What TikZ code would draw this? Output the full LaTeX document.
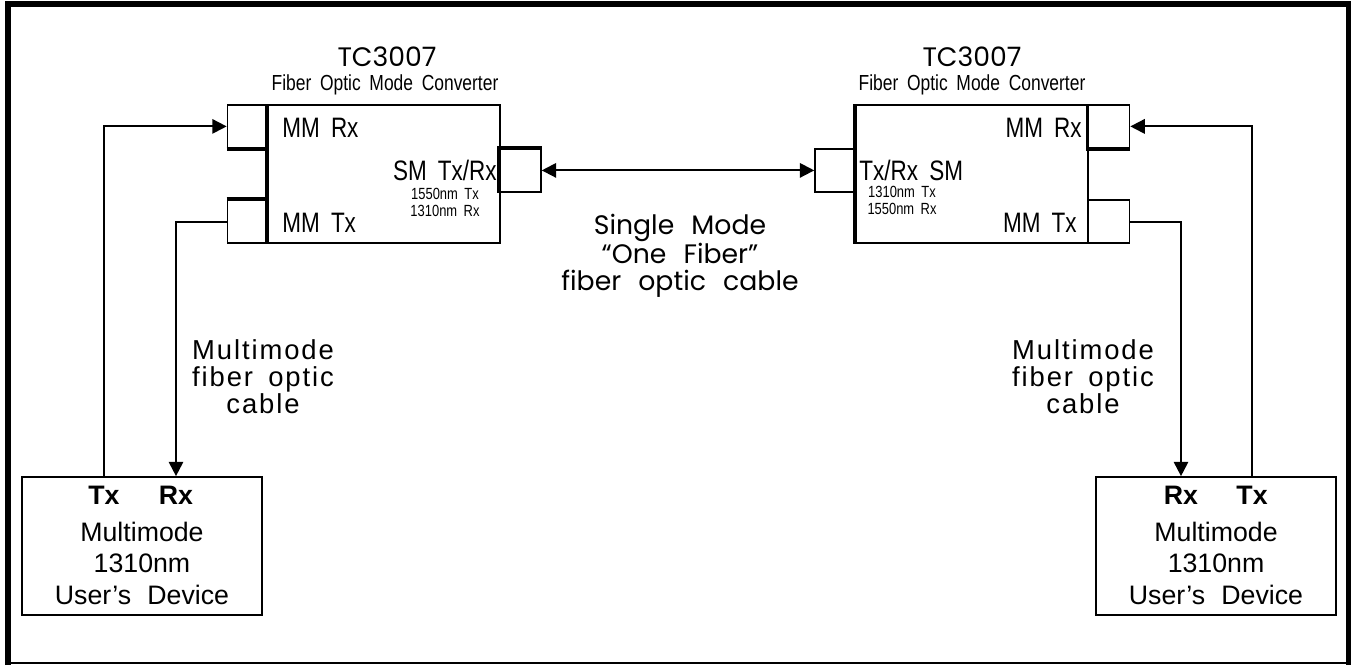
\documentclass[tikz,border=0pt]{standalone}
\usepackage{fontspec}
\setmainfont{Liberation Sans}
\newfontfamily\narrowfont[FakeStretch=0.8,WordSpace=1.8]{Liberation Sans}
\newfontfamily\roundfont[WordSpace=2.4]{Poppins}
\newfontfamily\widefont[LetterSpace=7,WordSpace=1.6]{Liberation Sans}
\newfontfamily\devfont[WordSpace=2.2]{Liberation Sans}
\usetikzlibrary{arrows.meta}

\begin{document}
\begin{tikzpicture}[
  box/.style={draw, line width=1.2pt, inner sep=0pt},
  conv/.style={box, minimum width=58mm, minimum height=34.5mm},
  port/.style={box, minimum width=10.25mm, minimum height=10.75mm},
  dev/.style={box, minimum width=60mm, minimum height=34.5mm},
  accent/.style={line width=2.6pt},
  cable/.style={line width=1.4pt, -{Triangle[length=3.6mm,width=3.6mm]}},
  lbl/.style={inner sep=0pt, font=\narrowfont\fontsize{20}{22}\selectfont},
  tiny/.style={inner sep=0pt, align=center, font=\narrowfont\fontsize{11.5}{12}\selectfont},
  model/.style={inner sep=0pt, font=\roundfont\fontsize{19}{22}\selectfont},
  sub/.style={inner sep=0pt, font=\narrowfont\fontsize{15.5}{17}\selectfont},
  note/.style={inner sep=0pt, align=center, font=\widefont\fontsize{19.5}{19.2}\selectfont},
  devtxt/.style={inner sep=0pt, font=\devfont\fontsize{19}{20}\selectfont},
  pin/.style={inner sep=0pt, font=\devfont\bfseries\fontsize{19}{20}\selectfont}
]
\useasboundingbox (0mm,0mm) rectangle (337.75mm,-166.25mm);

% outer frame
\draw[line width=1pt] (2mm,-1mm) rectangle (337.1mm,-165.75mm);
\draw[line width=4pt] (2mm,-166.25mm) -- (2mm,-1mm) -- (337.1mm,-1mm) -- (337.1mm,-166.25mm);

% left converter
\node[model] (ltitle) at (96.75mm,-14.25mm) {TC3007};
\node[sub] (lsub) at (96.25mm,-21.25mm) {Fiber Optic Mode Converter};
\node[conv] (lconv) at (96mm,-43.5mm) {};
\node[port] (lmmrx) at (62mm,-31.6mm) {};
\node[port] (lmmtx) at (62mm,-55.4mm) {};
\node[port] (lsm) at (130.1mm,-42.6mm) {};
\draw[accent] (lconv.north west) -- (lconv.south west);
\draw[accent] (lmmrx.south west) -- (lmmrx.south east);
\draw[accent] (lmmtx.north west) -- (lmmtx.north east);
\draw[accent] (lsm.south west) -- (lsm.north west) -- (lsm.north east);
\node[lbl, anchor=west] at (70.5mm,-32mm) {MM Rx};
\node[lbl, anchor=west] at (70.5mm,-55.75mm) {MM Tx};
\node[lbl, anchor=east] at (124.25mm,-42.5mm) {SM Tx/Rx};
\node[tiny] at (111.25mm,-50.6mm) {1550nm Tx\\1310nm Rx};

% right converter
\node[model] (rtitle) at (243mm,-14.25mm) {TC3007};
\node[sub] (rsub) at (243mm,-21.25mm) {Fiber Optic Mode Converter};
\node[conv] (rconv) at (243mm,-43.5mm) {};
\node[port] (rmmrx) at (277.25mm,-31.6mm) {};
\node[port] (rmmtx) at (277.25mm,-55.4mm) {};
\node[port] (rsm) at (208.9mm,-42.6mm) {};
\draw[accent] (rconv.north west) -- (rconv.south west);
\draw[accent] (rmmrx.north west) -- (rmmrx.south west) -- (rmmrx.south east);
\node[lbl, anchor=east] at (270.5mm,-32mm) {MM Rx};
\node[lbl, anchor=east] at (269.25mm,-55.75mm) {MM Tx};
\node[lbl, anchor=west] at (214.75mm,-42.5mm) {Tx/Rx SM};
\node[tiny] at (225.5mm,-50mm) {1310nm Tx\\1550nm Rx};

% single mode link
\draw[line width=1.4pt, {Triangle[length=3.6mm,width=3.6mm]}-{Triangle[length=3.6mm,width=3.6mm]}]
  (lsm.east) -- (rsm.west);
\node[note, font=\roundfont\fontsize{19}{19.2}\selectfont] (smcable) at (170mm,-64mm)
  {Single Mode\\“One Fiber”\\fiber optic cable};

% user devices
\node[dev] (ldev) at (35.5mm,-136.5mm) {};
\node[pin] (ldtx) at (26mm,-123.75mm) {Tx};
\node[pin] (ldrx) at (44mm,-123.75mm) {Rx};
\node[devtxt] at (35.5mm,-133mm) {Multimode};
\node[devtxt] at (35.5mm,-140.75mm) {1310nm};
\node[devtxt] at (35.5mm,-148.75mm) {User’s Device};

\node[dev] (rdev) at (304mm,-136.5mm) {};
\node[pin] (rdrx) at (295.25mm,-123.75mm) {Rx};
\node[pin] (rdtx) at (313mm,-123.75mm) {Tx};
\node[devtxt] at (304mm,-133mm) {Multimode};
\node[devtxt] at (304mm,-140.75mm) {1310nm};
\node[devtxt] at (304mm,-148.75mm) {User’s Device};

% multimode cables
\draw[cable] (ldev.north -| ldtx) |- (lmmrx.west);
\draw[cable] (lmmtx.west) -| (ldev.north -| ldrx);
\draw[cable] (rdev.north -| rdtx) |- (rmmrx.east);
\draw[cable] (rmmtx.east) -| (rdev.north -| rdrx);
\node[note] (lmmcable) at (65.75mm,-94.25mm) {Multimode\\fiber optic\\cable};
\node[note] (rmmcable) at (270.75mm,-94.25mm) {Multimode\\fiber optic\\cable};
\end{tikzpicture}
\end{document}
